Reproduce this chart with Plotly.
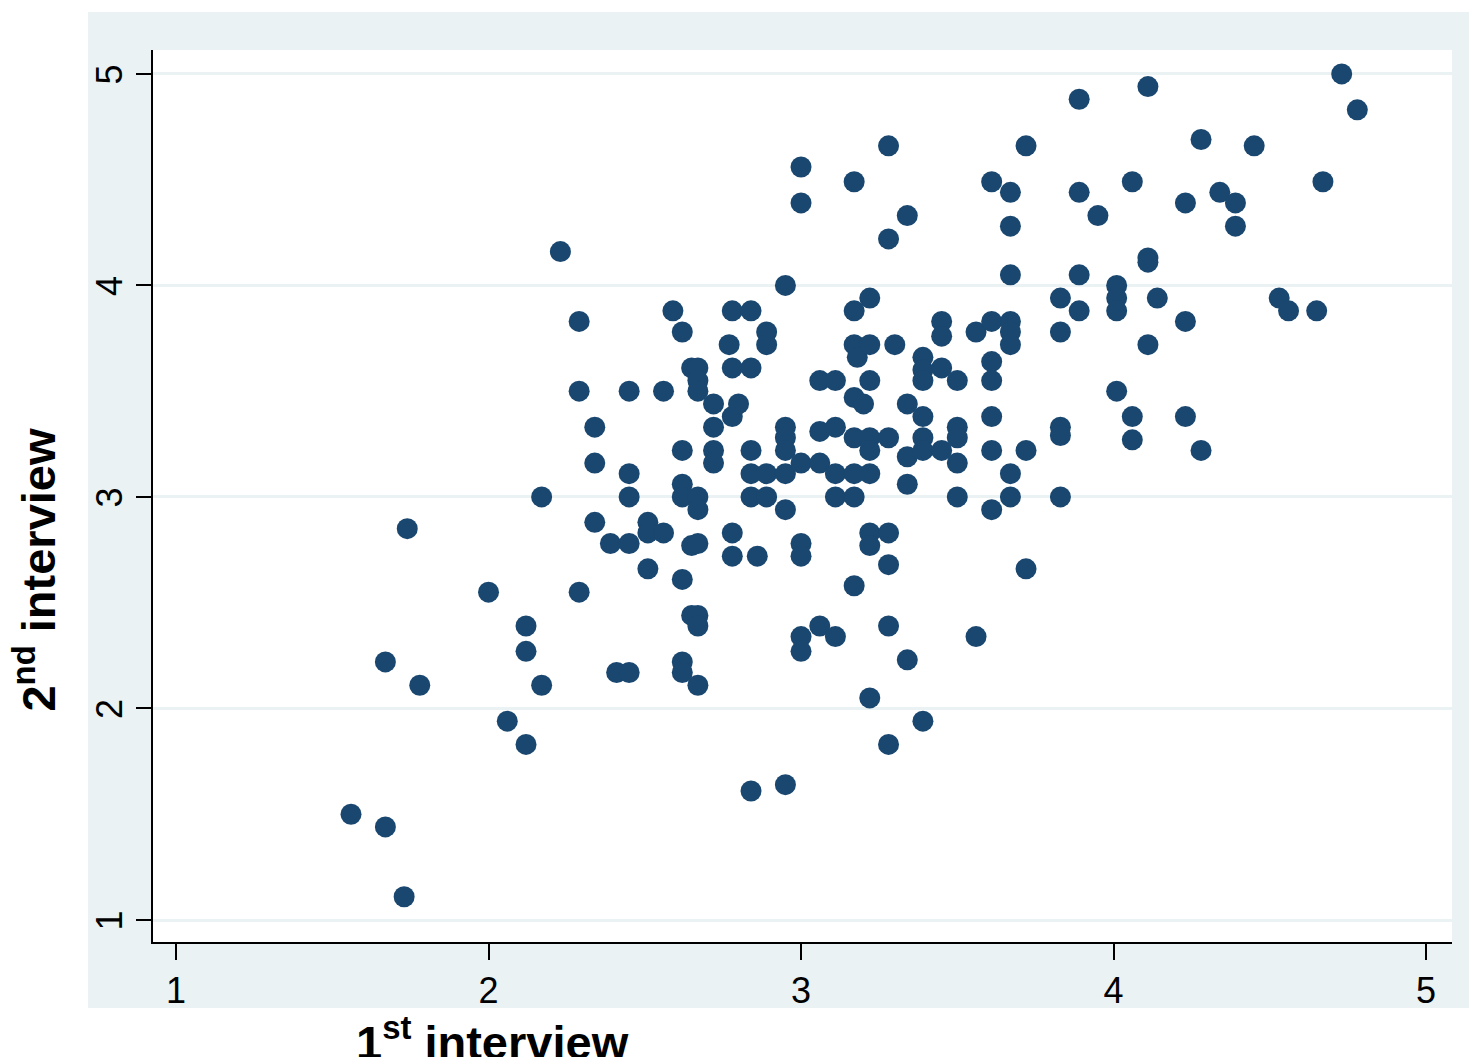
import plotly.graph_objects as go

# 1st interview score (x) and 2nd interview score (y), one entry per respondent
first_interview = [
    1.56,
    1.67, 1.67,
    1.73,
    1.74,
    1.78,
    2.00,
    2.06,
    2.12, 2.12, 2.12,
    2.17, 2.17,
    2.23,
    2.29, 2.29, 2.29,
    2.34, 2.34, 2.34,
    2.39,
    2.41,
    2.45, 2.45, 2.45, 2.45, 2.45,
    2.51, 2.51, 2.51,
    2.56, 2.56,
    2.59,
    2.62, 2.62, 2.62, 2.62, 2.62, 2.62, 2.62,
    2.65, 2.65, 2.65,
    2.67, 2.67, 2.67, 2.67, 2.67, 2.67, 2.67, 2.67, 2.67,
    2.72, 2.72, 2.72, 2.72,
    2.77,
    2.78, 2.78, 2.78, 2.78, 2.78,
    2.80,
    2.84, 2.84, 2.84, 2.84, 2.84, 2.84,
    2.86,
    2.89, 2.89, 2.89, 2.89,
    2.95, 2.95, 2.95, 2.95, 2.95, 2.95, 2.95,
    3.00, 3.00, 3.00, 3.00, 3.00, 3.00, 3.00,
    3.06, 3.06, 3.06, 3.06,
    3.11, 3.11, 3.11, 3.11, 3.11,
    3.17, 3.17, 3.17, 3.17, 3.17, 3.17, 3.17, 3.17,
    3.18,
    3.20,
    3.22, 3.22, 3.22, 3.22, 3.22, 3.22, 3.22, 3.22, 3.22,
    3.28, 3.28, 3.28, 3.28, 3.28, 3.28, 3.28,
    3.30,
    3.34, 3.34, 3.34, 3.34, 3.34,
    3.39, 3.39, 3.39, 3.39, 3.39, 3.39, 3.39,
    3.45, 3.45, 3.45, 3.45,
    3.50, 3.50, 3.50, 3.50, 3.50,
    3.56, 3.56,
    3.61, 3.61, 3.61, 3.61, 3.61, 3.61, 3.61,
    3.67, 3.67, 3.67, 3.67, 3.67, 3.67, 3.67, 3.67,
    3.72, 3.72, 3.72,
    3.83, 3.83, 3.83, 3.83, 3.83,
    3.89, 3.89, 3.89, 3.89,
    3.95,
    4.01, 4.01, 4.01, 4.01,
    4.06, 4.06, 4.06,
    4.11, 4.11, 4.11, 4.11,
    4.14,
    4.23, 4.23, 4.23,
    4.28, 4.28,
    4.34,
    4.39, 4.39,
    4.45,
    4.53,
    4.56,
    4.65,
    4.67,
    4.73,
    4.78,
]

second_interview = [
    1.50,
    1.44, 2.22,
    1.11,
    2.85,
    2.11,
    2.55,
    1.94,
    2.39, 2.27, 1.83,
    2.11, 3.00,
    4.16,
    3.83, 3.50, 2.55,
    3.33, 3.16, 2.88,
    2.78,
    2.17,
    3.50, 3.11, 3.00, 2.78, 2.17,
    2.88, 2.83, 2.66,
    3.50, 2.83,
    3.88,
    3.78, 3.22, 3.06, 3.00, 2.61, 2.22, 2.17,
    3.61, 2.77, 2.44,
    3.61, 3.55, 3.50, 3.00, 2.94, 2.78, 2.44, 2.39, 2.11,
    3.44, 3.33, 3.22, 3.16,
    3.72,
    3.88, 3.61, 3.38, 2.83, 2.72,
    3.44,
    3.88, 3.61, 3.22, 3.11, 3.00, 1.61,
    2.72,
    3.78, 3.72, 3.11, 3.00,
    4.00, 3.33, 3.28, 3.22, 3.11, 2.94, 1.64,
    4.56, 4.39, 3.16, 2.78, 2.72, 2.34, 2.27,
    3.55, 3.31, 3.16, 2.39,
    3.55, 3.33, 3.11, 3.00, 2.34,
    4.49, 3.88, 3.72, 3.47, 3.28, 3.11, 3.00, 2.58,
    3.66,
    3.44,
    3.94, 3.72, 3.55, 3.28, 3.22, 3.11, 2.83, 2.77, 2.05,
    4.66, 4.22, 3.28, 2.83, 2.68, 2.39, 1.83,
    3.72,
    4.33, 3.44, 3.19, 3.06, 2.23,
    3.66, 3.60, 3.55, 3.38, 3.28, 3.22, 1.94,
    3.83, 3.76, 3.61, 3.22,
    3.55, 3.33, 3.28, 3.16, 3.00,
    3.78, 2.34,
    4.49, 3.83, 3.64, 3.55, 3.38, 3.22, 2.94,
    4.44, 4.28, 4.05, 3.83, 3.78, 3.72, 3.11, 3.00,
    4.66, 3.22, 2.66,
    3.94, 3.78, 3.33, 3.29, 3.00,
    4.88, 4.44, 4.05, 3.88,
    4.33,
    4.00, 3.94, 3.88, 3.50,
    4.49, 3.38, 3.27,
    4.94, 4.13, 4.11, 3.72,
    3.94,
    4.39, 3.83, 3.38,
    4.69, 3.22,
    4.44,
    4.39, 4.28,
    4.66,
    3.94,
    3.88,
    3.88,
    4.49,
    5.00,
    4.83,
]

tick_values = [1, 2, 3, 4, 5]
tick_labels = ["1", "2", "3", "4", "5"]
x_title = "<b>1<sup>st</sup> interview</b>"
y_title = "<b>2<sup>nd</sup> interview</b>"

MARKER = "#1a476f"
REGION = "#eaf2f3"
TICK_FONT = dict(family="Liberation Sans, Arial, sans-serif", size=36, color="black")
TITLE_FONT = dict(family="Liberation Sans, Arial, sans-serif", size=47, color="black")

fig = go.Figure(
    go.Scatter(
        x=first_interview,
        y=second_interview,
        mode="markers",
        marker=dict(size=21, color=MARKER, line=dict(width=0)),
        hoverinfo="x+y",
    )
)

# the page body adds an 8px offset, so the figure is 8px smaller on each axis
fig.update_layout(
    width=1469,
    height=1049,
    autosize=False,
    margin=dict(l=145, r=25, t=42, b=115, pad=0),
    paper_bgcolor="white",
    plot_bgcolor="white",
    showlegend=False,
    shapes=[
        dict(type="rect", xref="paper", yref="paper",
             x0=-0.05, x1=1.0139, y0=-0.074, y1=1.0426,
             fillcolor=REGION, line=dict(width=0), layer="below"),
        dict(type="rect", xref="paper", yref="paper",
             x0=0, x1=1, y0=0, y1=1,
             fillcolor="white", line=dict(width=0), layer="below"),
    ],
    annotations=[
        dict(text=x_title, xref="paper", yref="paper", x=0.2617, y=-0.109,
             xanchor="center", yanchor="middle", showarrow=False, font=TITLE_FONT),
        dict(text=y_title, xref="paper", yref="paper", x=-0.0905, y=0.418,
             xanchor="center", yanchor="middle", textangle=-90, showarrow=False,
             font=TITLE_FONT),
    ],
)

fig.update_xaxes(
    range=[0.9264, 5.083],
    tickmode="array", tickvals=tick_values, ticktext=tick_labels,
    ticks="outside", ticklen=16, tickwidth=2, tickcolor="black",
    showline=True, linecolor="black", linewidth=2,
    showgrid=False, zeroline=False,
    tickfont=TICK_FONT,
)
fig.update_yaxes(
    range=[0.896, 5.113],
    tickmode="array", tickvals=tick_values, ticktext=tick_labels,
    tickangle=-90, ticklabelshift=6,
    ticks="outside", ticklen=15, tickwidth=2, tickcolor="black",
    showline=True, linecolor="black", linewidth=2,
    showgrid=True, gridcolor=REGION, gridwidth=3,
    zeroline=False,
    tickfont=TICK_FONT,
)

fig.write_html("out.html")
